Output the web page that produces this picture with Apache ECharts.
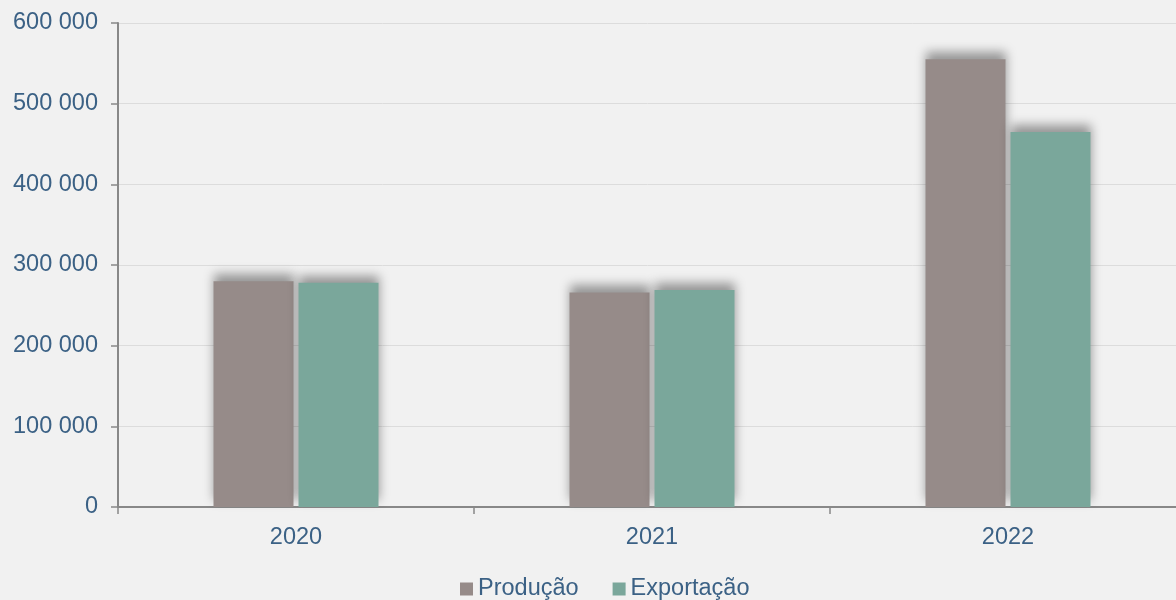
<!DOCTYPE html>
<html>
<head>
<meta charset="utf-8">
<script src="https://cdn.jsdelivr.net/npm/echarts@6/dist/echarts.min.js"></script>
<style>
  html, body { margin: 0; padding: 0; background: #f1f1f1; }
  #main { width: 1176px; height: 600px; }
</style>
</head>
<body>
<div id="main"></div>
<script>
var years = ["2020", "2021", "2022"];
var producao = [280000, 266000, 555000];
var exportacao = [278000, 269000, 465000];

var textColor = "#3b6185";
var font = "'Liberation Sans', Arial, sans-serif";

function fmt(v) {
  return String(v).replace(/\B(?=(\d{3})+(?!\d))/g, " ");
}

var chart = echarts.init(document.getElementById("main"));

var barShadow = {
  shadowColor: "rgba(0,0,0,0.38)",
  shadowBlur: 10,
  shadowOffsetX: 0,
  shadowOffsetY: -7
};

var option = {
  backgroundColor: "#f1f1f1",
  animation: false,
  grid: { left: 118, top: 23, width: 1068, height: 484, outerBoundsMode: "none" },
  legend: {
    top: 572,
    left: 455,
    itemWidth: 13,
    itemHeight: 13,
    itemGap: 34,
    icon: "rect",
    textStyle: { color: textColor, fontSize: 23.5, fontFamily: font },
    data: ["Produção", "Exportação"]
  },
  xAxis: {
    type: "category",
    data: years,
    axisLine: { lineStyle: { color: "#888", width: 2 } },
    axisTick: { show: true, length: 7, lineStyle: { color: "#888", width: 1.5 } },
    axisLabel: { color: textColor, fontSize: 23.5, fontFamily: font, margin: 19 }
  },
  yAxis: {
    type: "value",
    min: 0,
    max: 600000,
    interval: 100000,
    axisLine: { show: true, lineStyle: { color: "#888", width: 2 } },
    axisTick: { show: true, length: 7, lineStyle: { color: "#888", width: 1.5 } },
    splitLine: { lineStyle: { color: "#dcdcdc", width: 1 } },
    axisLabel: {
      color: textColor,
      fontSize: 23.5,
      fontFamily: font,
      margin: 20,
      formatter: fmt
    }
  },
  series: [
    {
      name: "Produção",
      type: "bar",
      data: producao,
      barWidth: 80,
      barGap: "6.25%",
      itemStyle: Object.assign({ color: "#968b89" }, barShadow)
    },
    {
      name: "Exportação",
      type: "bar",
      data: exportacao,
      barWidth: 80,
      itemStyle: Object.assign({ color: "#7aa79b" }, barShadow)
    }
  ]
};

chart.setOption(option);
</script>
</body>
</html>
